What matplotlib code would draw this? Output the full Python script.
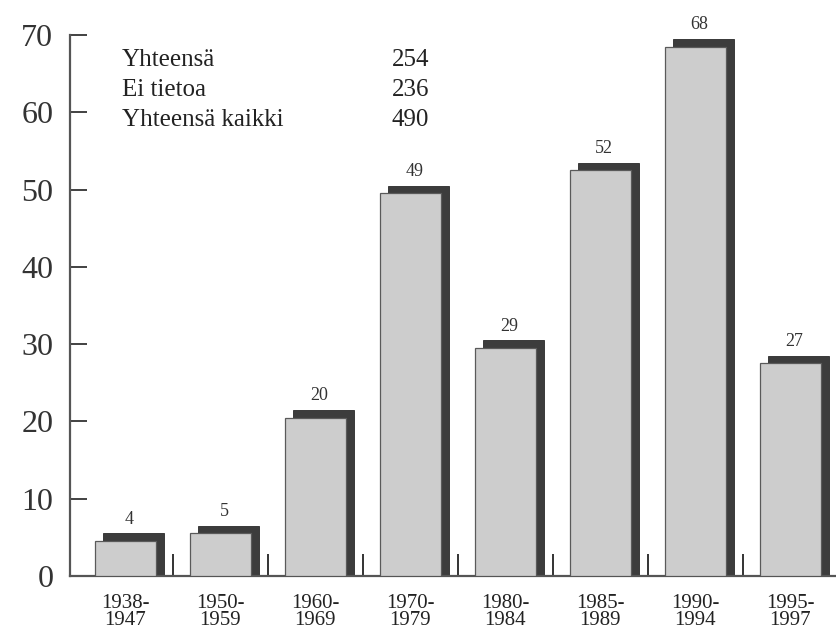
import matplotlib
matplotlib.use("Agg")
import matplotlib.pyplot as plt
import numpy as np

categories = ["1938-\n1947", "1950-\n1959", "1960-\n1969", "1970-\n1979",
              "1980-\n1984", "1985-\n1989", "1990-\n1994", "1995-\n1997"]
values = [4, 5, 20, 49, 29, 52, 68, 27]
summary_labels = ["Yhteensä", "Ei tietoa", "Yhteensä kaikki"]
summary_values = ["254", "236", "490"]

plt.rcParams['font.family'] = ['Liberation Serif', 'DejaVu Serif']

fig = plt.figure(figsize=(8.36, 6.32), dpi=100)
ax = fig.add_axes([70/836, (632-576)/632, (836-70)/836, (576-35)/632])

x = np.arange(len(values))
w = 0.64
dx = 0.085
dy = 1.0
lift = 0.5
vals = np.array(values, dtype=float)

# dark shadow behind, offset up-right
ax.bar(x + dx, vals + lift + dy, width=w, bottom=0, color='#3c3c3c', edgecolor='#2a2a2a',
       linewidth=0.6, zorder=2)
# light front bars
ax.bar(x, vals + lift, width=w, color='#cdcdcd', edgecolor='#5a5a5a', linewidth=0.9, zorder=3)

for xi, v in zip(x, values):
    ax.text(xi + dx / 2, v + lift + dy + 0.7, str(v), ha='center', va='bottom',
            fontsize=13, color='#333333', zorder=4)

ax.set_xlim(-0.58, 7.48)
ax.set_ylim(0, 70)
ax.set_yticks(np.arange(0, 71, 10))
ax.tick_params(axis='y', direction='in', length=12, width=1.3, labelsize=23,
               pad=12, colors='#333333')
ax.set_xticks(x)
ax.set_xticklabels(categories, fontsize=15, linespacing=0.88)
ax.tick_params(axis='x', length=0, pad=13, colors='#222222')
ax.set_xticks(x[:-1] + 0.5, minor=True)
ax.tick_params(axis='x', which='minor', direction='in', length=16, width=1.4, color='#333333')

for s in ['top', 'right']:
    ax.spines[s].set_visible(False)
ax.spines['left'].set_color('#555555')
ax.spines['left'].set_linewidth(1.6)
ax.spines['bottom'].set_color('#555555')
ax.spines['bottom'].set_linewidth(1.6)

ys = [66, 96, 126]
for lab, val, yy in zip(summary_labels, summary_values, ys):
    fig.text(122/836, 1 - yy/632, lab, fontsize=18, ha='left', va='baseline', color='#222222')
    fig.text(429/836, 1 - yy/632, val, fontsize=18, ha='right', va='baseline', color='#222222')

fig.savefig("out.png", dpi=100)
